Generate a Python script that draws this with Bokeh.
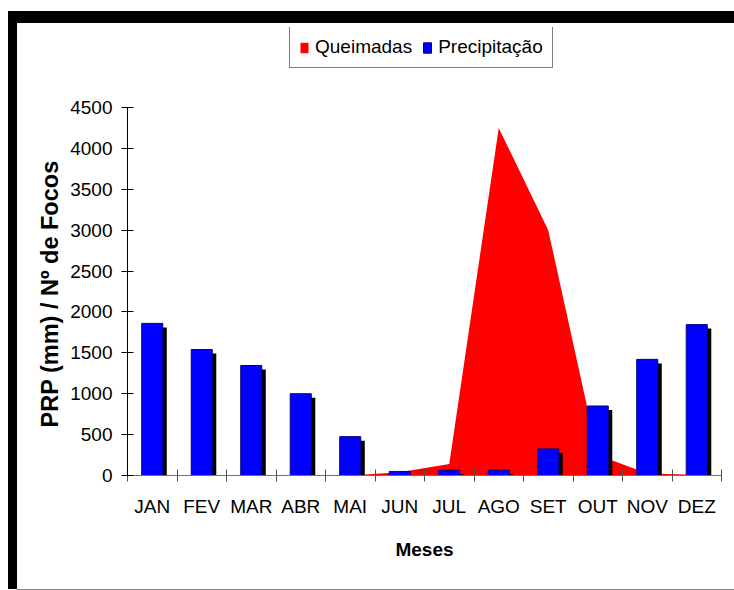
import numpy as np
from bokeh.plotting import figure
from bokeh.models import (Range1d, FixedTicker, Legend, LegendItem, ColumnDataSource)
from bokeh.embed import file_html
from bokeh.resources import INLINE

months = ["JAN", "FEV", "MAR", "ABR", "MAI", "JUN", "JUL", "AGO", "SET", "OUT", "NOV", "DEZ"]
queimadas = [0, 0, 0, 0, 0, 40, 140, 4250, 3000, 250, 25, 10]
precipitacao = [1860, 1540, 1345, 1000, 475, 50, 65, 65, 325, 850, 1420, 1845]
y_ticks = [0, 500, 1000, 1500, 2000, 2500, 3000, 3500, 4000, 4500]

FONT = "Liberation Sans"

centers = np.arange(len(months)) + 0.5
bounds = list(range(len(months) + 1))

# frame extends above the top tick to host the legend; axis line limited to 0..4500
p = figure(width=717, height=566, output_backend="svg", toolbar_location=None,
           x_range=Range1d(0, len(months)), y_range=Range1d(0, 5478),
           min_border_left=110, min_border_top=4, min_border_right=13, min_border_bottom=114)
# black frame bands (top/left) and thin grey bottom line, drawn as shadows outside the canvas
p.styles = {"margin-top": "23px", "margin-left": "17px",
            "box-shadow": "0 -12px 0 0 black, -9px 0 0 0 black, -9px -12px 0 0 black, "
                          "0 1px 0 0 #888888"}
p.outline_line_color = None
p.xgrid.grid_line_color = None
p.ygrid.grid_line_color = None
p.background_fill_color = "white"
p.border_fill_color = "white"

src = ColumnDataSource(dict(x=centers, q=queimadas, pr=precipitacao,
                            sx=centers + 0.081, sy=np.maximum(np.array(precipitacao) - 49, 0)))

area = p.varea(x="x", y1=0, y2="q", source=src, fill_color="#FF0000")
shadow = p.vbar(x="sx", top="sy", width=0.425, source=src, fill_color="black", line_color=None)
bars = p.vbar(x="x", top="pr", width=0.425, source=src, fill_color="#0000FF",
              line_color="#000080", line_width=1)

# y axis
ya = p.yaxis[0]
ya.ticker = FixedTicker(ticks=y_ticks, minor_ticks=[])
ya.bounds = (0, 4500)
ya.major_tick_in = 6
ya.major_tick_out = 6
ya.axis_line_color = "black"
ya.major_tick_line_color = "black"
ya.major_label_text_font = FONT
ya.major_label_text_font_size = "19px"
ya.major_label_text_color = "black"
ya.major_label_standoff = 9
# trailing no-break spaces keep the title centred on the 0..4500 span
ya.axis_label = "PRP (mm) / Nº de Focos" + "\u00a0" * 13
ya.axis_label_text_font = FONT
ya.axis_label_text_font_style = "bold"
ya.axis_label_text_font_size = "23.5px"
ya.axis_label_text_color = "black"
ya.axis_label_standoff = 4

# x axis
xa = p.xaxis[0]
xa.ticker = FixedTicker(ticks=list(centers), minor_ticks=bounds)
xa.major_label_overrides = {float(c): m for c, m in zip(centers, months)}
xa.major_tick_line_color = None
xa.major_tick_in = 0
xa.major_tick_out = 6
xa.minor_tick_in = 6
xa.minor_tick_out = 6
xa.minor_tick_line_color = "#505050"
xa.axis_line_color = "#707070"
xa.major_label_text_font = FONT
xa.major_label_text_font_size = "19px"
xa.major_label_text_color = "black"
xa.major_label_standoff = 14
xa.axis_label = "Meses"
xa.axis_label_text_font = FONT
xa.axis_label_text_font_style = "bold"
xa.axis_label_text_font_size = "19px"
xa.axis_label_text_color = "black"
xa.axis_label_standoff = 19

legend = Legend(items=[LegendItem(label="Queimadas", renderers=[area]),
                       LegendItem(label="Precipitação", renderers=[bars])],
                location=(162, 407), orientation="horizontal",
                border_line_color="black", border_line_width=1,
                background_fill_color="white", background_fill_alpha=1,
                label_text_font=FONT, label_text_font_size="19px", label_text_color="black",
                glyph_width=10, glyph_height=13, label_standoff=6, spacing=10,
                padding=9, margin=0, label_height=22)
p.add_layout(legend, "center")

open("out.html", "w").write(file_html(p, INLINE))
